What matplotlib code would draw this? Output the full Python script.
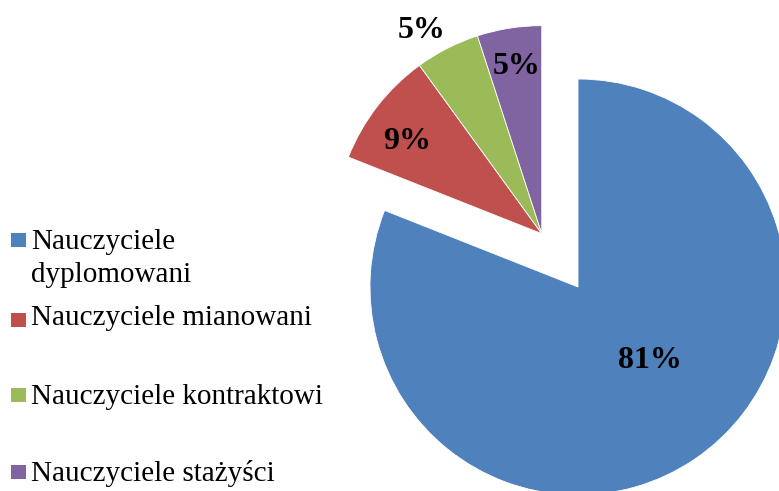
import matplotlib.pyplot as plt
from matplotlib.patches import Rectangle
import numpy as np

# --- data ---
labels = ['Nauczyciele\ndyplomowani', 'Nauczyciele mianowani',
          'Nauczyciele kontraktowi', 'Nauczyciele stażyści']
shares = [81, 9, 5, 5]
colors = ['#4F81BD', '#C0504D', '#9BBB59', '#8064A2']

plt.rcParams['font.family'] = ['Liberation Serif', 'DejaVu Serif']

fig = plt.figure(figsize=(7.79, 4.91), dpi=100)
ax = fig.add_axes([0, 0, 1, 1])

# pie geometry (pixel units)
cx, cy, r = 578, 204, 208
explode_frac = 0.31
small_total = sum(shares[1:])
mid = np.deg2rad(90 + small_total / sum(shares) * 360 / 2)
ox, oy = cx + explode_frac * r * np.cos(mid), cy + explode_frac * r * np.sin(mid)

wedge_kw = dict(edgecolor='white', linewidth=0.6)
txt_kw = dict(fontsize=23, fontweight='bold', color='black')

# big slice at its own centre, small slices shifted together as a group
w1, _, t1 = ax.pie(shares, colors=colors, startangle=90, counterclock=False,
                   center=(cx, cy), radius=r, wedgeprops=wedge_kw,
                   autopct='%1.0f%%', pctdistance=0.5, textprops=txt_kw)
for w, t in zip(w1[1:], t1[1:]):
    w.set_visible(False)
    t.set_visible(False)

w2, _, t2 = ax.pie(shares, colors=colors, startangle=90, counterclock=False,
                   center=(ox, oy), radius=r, wedgeprops=wedge_kw,
                   autopct='%1.0f%%', pctdistance=0.82, textprops=txt_kw)
w2[0].set_visible(False)
t2[0].set_visible(False)

# label placement tweaks (Excel puts them a bit differently)
t1[0].set_position((cx + 0.5 * r * np.sin(np.deg2rad(131)) - 7,
                    cy + 0.5 * r * np.cos(np.deg2rad(131)) - 5))
x, y = t2[1].get_position()
t2[1].set_position((x, y - 12))
x, y = t2[2].get_position()
t2[2].set_position((ox + (x - ox) * 1.36 - 15, oy + (y - oy) * 1.36 - 4))
x, y = t2[3].get_position()
t2[3].set_position((x + 2, y - 1))

# pie() resets the limits, so set them afterwards
ax.set_xlim(0, 779)
ax.set_ylim(0, 491)
ax.set_aspect('equal')
ax.axis('off')

# legend drawn by hand (uneven spacing as in the original)
marker_y = [240, 320, 395, 472]
text_top = [229, 305, 384, 460]
for lab, col, my, ty in zip(labels, colors, marker_y, text_top):
    ax.add_patch(Rectangle((11, 491 - my - 7), 15, 14, facecolor=col,
                           edgecolor='none'))
    ax.text(31, 491 - ty, lab, fontsize=21, va='top', ha='left',
            linespacing=1.35)

fig.savefig('out.png', dpi=100)
